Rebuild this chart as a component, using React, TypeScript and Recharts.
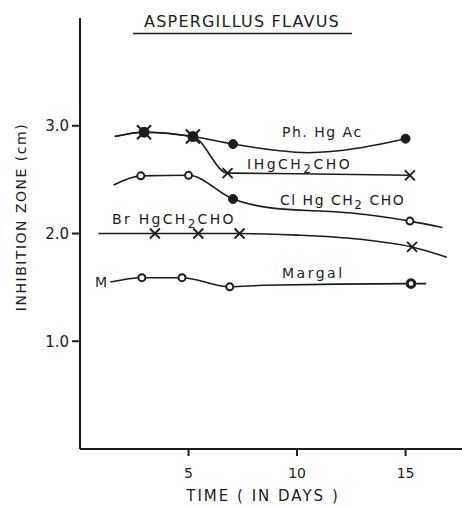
import { LineChart, Line, XAxis, YAxis } from "recharts";

// Inhibition zone (cm) vs time (days), Aspergillus flavus.
// Each series keeps its own day positions as drawn in the original figure.
// mark: "" none, "star" overlap of x and dot, "dot" filled, "open" hollow, "x" cross

const phDays = [1.6, 2.95, 5.2, 7.05, 10.5, 15.0];
const phVals = [2.9, 2.94, 2.9, 2.83, 2.75, 2.88];
const phMarks = ["", "star", "star", "dot", "", "dot"];

const iDays = [1.6, 2.95, 5.2, 6.8, 10.0, 15.2];
const iVals = [2.9, 2.94, 2.9, 2.56, 2.555, 2.54];
const iMarks = ["", "", "", "x", "", "x"];

const clDays = [1.55, 2.8, 5.0, 7.05, 8.7, 12.5, 15.2, 16.7];
const clVals = [2.45, 2.535, 2.54, 2.32, 2.24, 2.19, 2.115, 2.055];
const clMarks = ["", "open", "open", "dot", "", "", "open", ""];

const brDays = [0.85, 3.45, 5.45, 7.35, 10.0, 13.2, 15.3, 16.9];
const brVals = [2.0, 2.0, 2.0, 2.0, 1.985, 1.94, 1.875, 1.78];
const brMarks = ["", "x", "x", "x", "", "", "x", ""];

const mgDays = [1.4, 2.85, 4.7, 6.9, 8.5, 15.25, 15.95];
const mgVals = [1.55, 1.59, 1.59, 1.505, 1.52, 1.535, 1.535];
const mgMarks = ["", "open", "open", "open", "", "bold", ""];

const xTicks = [5, 10, 15];
const yTicks = [1, 2, 3];

const INK = "#1c1c1c";
const FONT = "'DejaVu Sans', sans-serif";

const build = (days: number[], vals: number[], marks: string[]) =>
  days.map((d, i) => ({ d, v: vals[i], m: marks[i] }));

const phData = build(phDays, phVals, phMarks);
const iData = build(iDays, iVals, iMarks);
const clData = build(clDays, clVals, clMarks);
const brData = build(brDays, brVals, brMarks);
const mgData = build(mgDays, mgVals, mgMarks);

const markRenderer = (name: string) => (props: any) => {
  const { cx, cy, payload, index } = props;
  const key = `${name}-${index}`;
  if (cx == null || cy == null) return <g key={key} />;
  switch (payload.m) {
    case "star":
      return (
        <g key={key} stroke={INK} strokeWidth={2}>
          <circle cx={cx} cy={cy} r={4.5} fill={INK} />
          <line x1={cx - 7} y1={cy - 7} x2={cx + 7} y2={cy + 7} />
          <line x1={cx - 7} y1={cy + 7} x2={cx + 7} y2={cy - 7} />
        </g>
      );
    case "dot":
      return <circle key={key} cx={cx} cy={cy} r={4.5} fill={INK} stroke={INK} />;
    case "open":
      return (
        <circle key={key} cx={cx} cy={cy} r={3.5} fill="#fff" stroke={INK} strokeWidth={2} />
      );
    case "bold":
      return (
        <circle key={key} cx={cx} cy={cy} r={3.8} fill="#fff" stroke={INK} strokeWidth={3} />
      );
    case "x":
      return (
        <g key={key} stroke={INK} strokeWidth={1.8}>
          <line x1={cx - 5} y1={cy - 5} x2={cx + 5} y2={cy + 5} />
          <line x1={cx - 5} y1={cy + 5} x2={cx + 5} y2={cy - 5} />
        </g>
      );
    default:
      return <g key={key} />;
  }
};

const lineProps = {
  type: "monotone" as const,
  dataKey: "v",
  stroke: INK,
  strokeWidth: 1.6,
  isAnimationActive: false,
  activeDot: false as const,
};

function Formula({
  x,
  y,
  pre,
  post,
  spacing = 1.5,
}: {
  x: number;
  y: number;
  pre: string;
  post: string;
  spacing?: number;
}) {
  return (
    <text x={x} y={y} fontFamily={FONT} fontSize={14} fill={INK} letterSpacing={spacing}>
      {pre}
      <tspan dy={4} fontSize={12}>2</tspan>
      <tspan dy={-4}>{post}</tspan>
    </text>
  );
}

export default function App() {
  return (
    <div style={{ position: "absolute", left: 0, top: 0, width: 462, height: 506, background: "#fff" }}>
      <LineChart width={462} height={506} margin={{ top: 18, right: 0, bottom: 27, left: 20 }}>
        <XAxis
          type="number"
          dataKey="d"
          domain={[0, 17.6]}
          ticks={xTicks}
          allowDataOverflow
          height={30}
          stroke={INK}
          strokeWidth={2}
          tickSize={7}
          tickMargin={12}
          tick={{ fill: INK, fontSize: 14, fontFamily: FONT }}
        />
        <YAxis
          type="number"
          domain={[0, 4]}
          ticks={yTicks}
          width={60}
          stroke={INK}
          strokeWidth={2}
          tickSize={8}
          tickMargin={3}
          tickFormatter={(v: number) => v.toFixed(1)}
          tick={{ fill: INK, fontSize: 15, fontFamily: FONT }}
        />
        <Line {...lineProps} data={iData} dot={markRenderer("i")} />
        <Line {...lineProps} data={phData} dot={markRenderer("ph")} />
        <Line {...lineProps} data={clData} dot={markRenderer("cl")} />
        <Line {...lineProps} data={brData} dot={markRenderer("br")} />
        <Line {...lineProps} data={mgData} dot={markRenderer("mg")} />

        <text x={242} y={27} textAnchor="middle" fontFamily={FONT} fontSize={16} fill={INK} letterSpacing={1.2}>
          ASPERGILLUS FLAVUS
        </text>
        <line x1={133} y1={33.5} x2={352} y2={33.5} stroke={INK} strokeWidth={1.5} />

        <text
          x={0}
          y={0}
          transform="translate(26 217) rotate(-90)"
          textAnchor="middle"
          fontFamily={FONT}
          fontSize={14}
          fill={INK}
          letterSpacing={1.5}
        >
          INHIBITION ZONE (cm)
        </text>
        <text x={263} y={501} textAnchor="middle" fontFamily={FONT} fontSize={15} fill={INK} letterSpacing={2}>
          TIME ( IN DAYS )
        </text>

        <text x={282} y={137} fontFamily={FONT} fontSize={14} fill={INK} letterSpacing={1.5}>
          Ph. Hg Ac
        </text>
        <Formula x={247} y={169} pre="IHgCH" post="CHO" spacing={2.5} />
        <Formula x={280} y={205} pre="Cl Hg CH" post=" CHO" />
        <Formula x={112} y={224} pre="Br HgCH" post="CHO" spacing={2.3} />
        <text x={95} y={287} fontFamily={FONT} fontSize={14} fill={INK}>
          M
        </text>
        <text x={282} y={278} fontFamily={FONT} fontSize={14} fill={INK} letterSpacing={2.5}>
          Margal
        </text>
      </LineChart>
    </div>
  );
}
